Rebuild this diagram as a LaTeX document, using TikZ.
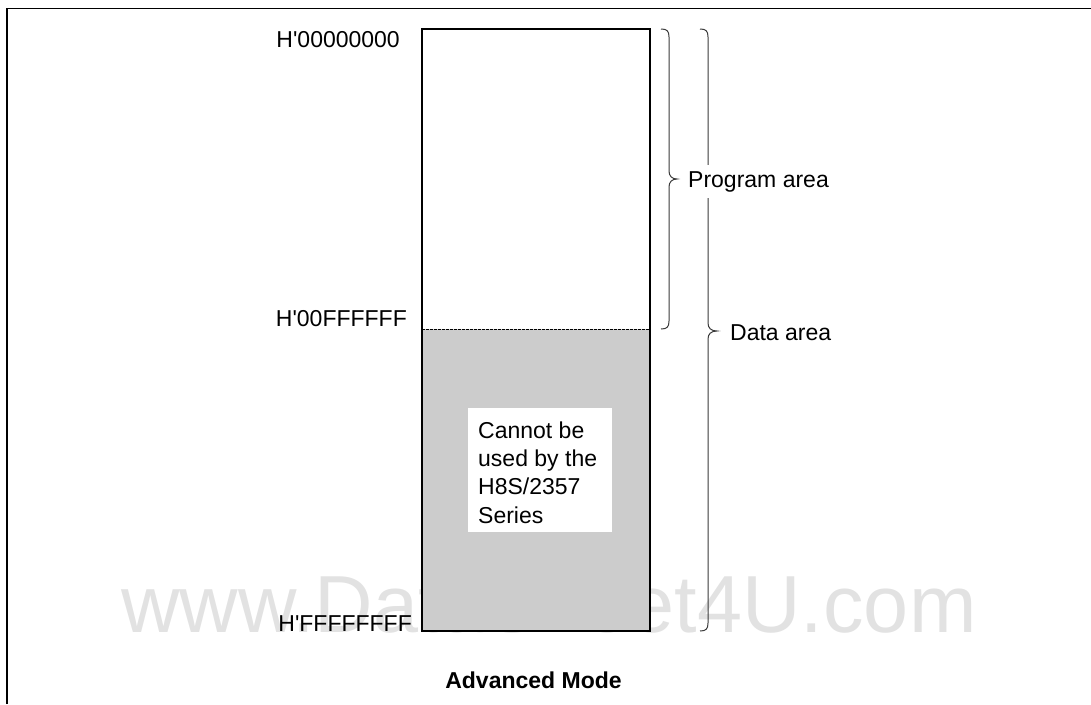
\documentclass[tikz,border=0pt]{standalone}
\usepackage{fontspec}
\setmainfont{Liberation Sans}[Ligatures=TeXOff]
\definecolor{areafill}{HTML}{CCCCCC}
\definecolor{wmark}{HTML}{E2E2E2}
\definecolor{bracecol}{HTML}{3A3A3A}
\begin{document}
\begin{tikzpicture}[x=1pt,y=-1pt,
  lbl/.style={inner sep=0pt, font=\fontsize{23}{28}\selectfont},
  framel/.style={line width=1.6pt, black},
  bracel/.style={line width=1pt, bracecol},
  region/.style={inner sep=0pt, minimum width=228, anchor=north west}]
\useasboundingbox (0,0) rectangle (1091,704);
% frame
\draw[framel] (7,704) -- (7,8.5) -- (1091,8.5);
% watermark
\node[inner sep=0pt, anchor=base west, text=wmark, font=\fontsize{81}{90}\selectfont] (wm) at (121,632) {www.DataSheet4U.com};
% memory map
\node[region, fill=white, minimum height=300] (prog) at (422,29) {};
\node[region, fill=areafill, minimum height=302] (dat) at (422,329) {};
\draw[line width=0.8pt, dash pattern=on 3pt off 1pt] (prog.south west) -- (prog.south east);
\draw[line width=2pt] (prog.north west) rectangle (dat.south east);
% note
\node[fill=white, inner sep=0pt, minimum width=144, minimum height=124] (note) at (540,470) {};
\node[lbl, anchor=base west] (n1) at (478,438) {Cannot be};
\node[lbl, anchor=base west] (n2) at (478,466.5) {used by the};
\node[lbl, anchor=base west] (n3) at (478,494.5) {H8S/2357};
\node[lbl, anchor=base west] (n4) at (478,523) {Series};
% addresses
\node[lbl, anchor=base east] (a0) at (400,47) {H'00000000};
\node[lbl, anchor=base east] (a1) at (407,326) {H'00FFFFFF};
\node[lbl, anchor=base east] (a2) at (412,631) {H'FFFFFFFF};
% braces
\coordinate (pt) at (677,179);
\coordinate (dt) at (717,331);
\draw[bracel] (661,29) .. controls (667,29) and (669,31) .. (669,37) -- (669,171)
  .. controls (669,176) and (672,179) .. (pt)
  .. controls (672,179) and (669,182) .. (669,187) -- (669,321)
  .. controls (669,327) and (667,329) .. (661,329);
\draw[bracel] (700,29) .. controls (706,29) and (708,31) .. (708,37) -- (708,323)
  .. controls (708,328) and (711,331) .. (dt)
  .. controls (711,331) and (708,334) .. (708,339) -- (708,623)
  .. controls (708,629) and (706,631) .. (700,631);
\node[lbl, anchor=base west, fill=white, inner ysep=6pt] (pl) at (688,187) {Program area};
\node[lbl, anchor=base west] (dl) at (730,340) {Data area};
% caption
\node[lbl, anchor=base, font=\fontsize{23}{28}\selectfont\bfseries] (cap) at (533.5,688) {Advanced Mode};
\end{tikzpicture}
\end{document}
